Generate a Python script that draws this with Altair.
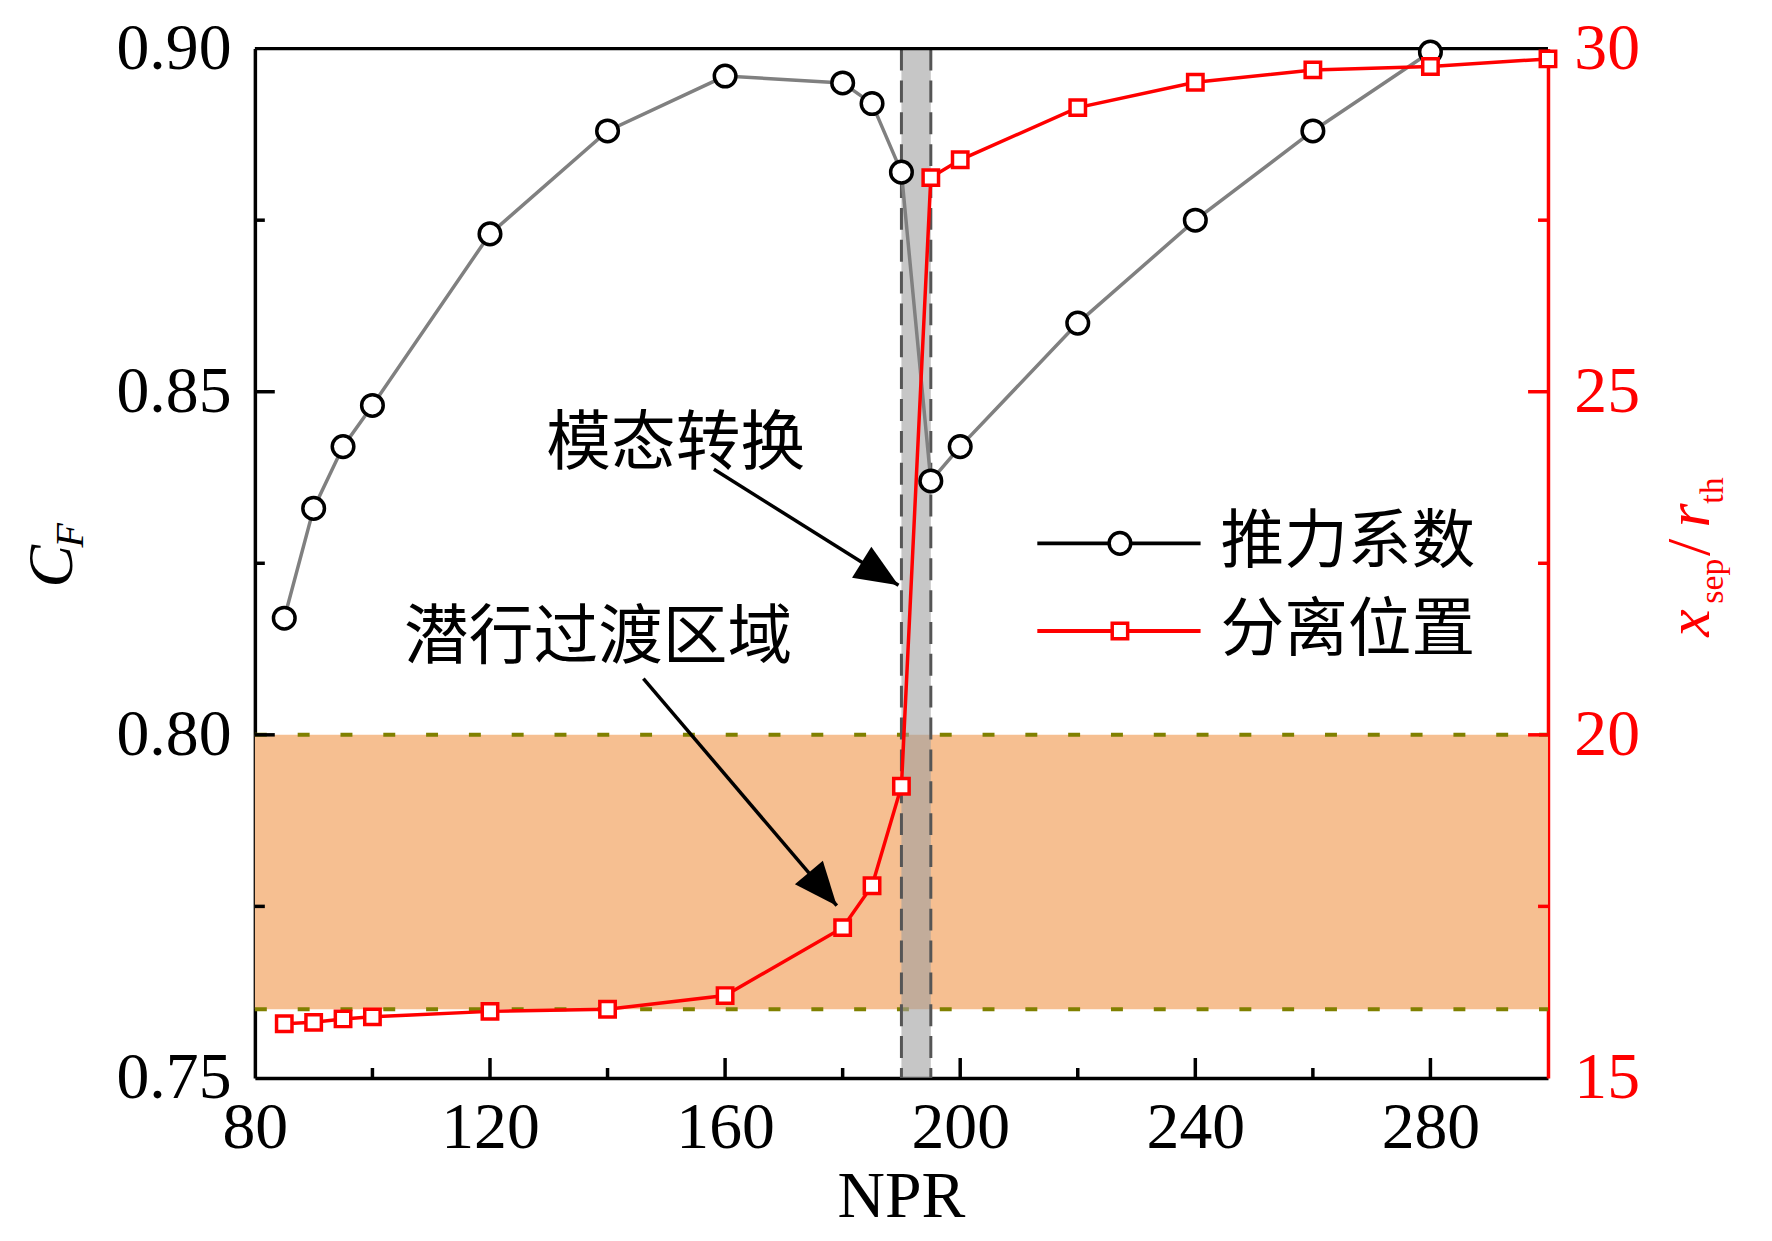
import altair as alt
import pandas as pd

# ---------------- data ----------------
npr_cf = [85, 90, 95, 100, 120, 140, 160, 180, 185, 190, 195, 200, 220, 240, 260, 280]
cf = [0.817, 0.833, 0.842, 0.848, 0.873, 0.888, 0.896, 0.895, 0.892, 0.882,
      0.837, 0.842, 0.860, 0.875, 0.888, 0.8995]

npr_sep = [85, 90, 95, 100, 120, 140, 160, 180, 185, 190, 195, 200, 220, 240, 260, 280, 300]
xsep = [15.79, 15.81, 15.86, 15.89, 15.97, 16.00, 16.20, 17.19, 17.80, 19.25,
        28.12, 28.38, 29.14, 29.51, 29.69, 29.74, 29.85]

x_labels = [80, 120, 160, 200, 240, 280]
x_major = [120, 160, 200, 240, 280]
x_minor = [100, 140, 180, 220, 260]
left_labels = [0.75, 0.80, 0.85, 0.90]
left_major = [0.80, 0.85]
left_minor = [0.775, 0.825, 0.875]
right_labels = [15, 20, 25, 30]
right_major = [20, 25]
right_minor = [17.5, 22.5, 27.5]

band_cf = [0.76, 0.80]          # orange region (left axis units)
band_npr = [190, 195]           # grey transition region (NPR)

annot_text = ["模态转换", "潜行过渡区域"]
annot_x = [151.6, 138.4]
annot_y = [0.8423, 0.8141]
arrow_x0 = [158.1, 146.1]
arrow_y0 = [0.8387, 0.8082]
arrow_x1 = [189.5, 179.0]
arrow_y1 = [0.8218, 0.7751]
arrow_angle = [32, 50]

legend_labels = ["推力系数", "分离位置"]
legend_colors = ["black", "red"]
legend_shapes = ["circle", "square"]

# ---------------- layout ----------------
W, H = 1299, 1034
SERIF = "Liberation Serif"
CJK = "Noto Sans CJK SC"
RED = "#FF0000"
LW = 3.5
LFS = 66

df_cf = pd.DataFrame({"npr": npr_cf, "cf": cf})
df_sep = pd.DataFrame({"npr": npr_sep, "xsep": xsep})
one = pd.DataFrame({"d": [0]})

xs = alt.Scale(domain=[80, 300], nice=False, zero=False)
ysL = alt.Scale(domain=[0.75, 0.90], nice=False, zero=False)
ysR = alt.Scale(domain=[15, 30], nice=False, zero=False)

x_axis = alt.Axis(values=x_labels, format="d", title=None, ticks=False, tickSize=0,
                  domainColor="black", domainWidth=LW, labelFont=SERIF, labelFontSize=LFS,
                  labelColor="black", labelPadding=18, grid=False, labelFlush=False,
                  labelOverlap=False)
yL_axis = alt.Axis(values=left_labels, format=".2f", title=None, ticks=False, tickSize=0,
                   domainColor="black", domainWidth=LW, labelFont=SERIF, labelFontSize=LFS,
                   labelColor="black", labelPadding=24, grid=False, labelOverlap=False,
                   orient="left")
yR_axis = alt.Axis(values=right_labels, format="d", title=None, ticks=False, tickSize=0,
                   domainColor=RED, domainWidth=LW, labelFont=SERIF, labelFontSize=LFS,
                   labelColor=RED, labelPadding=26, grid=False, labelOverlap=False,
                   orient="right")


def X(f):
    return alt.X(f, type="quantitative", scale=xs, axis=x_axis)


def YL(f):
    return alt.Y(f, type="quantitative", scale=ysL, axis=yL_axis)


def YR(f):
    return alt.Y(f, type="quantitative", scale=ysR, axis=yR_axis)


# ---------------- left (C_F) group ----------------
orange = alt.Chart(pd.DataFrame({"lo": [band_cf[0]], "hi": [band_cf[1]]})).mark_rect(
    color="#F6BF91").encode(y=YL("lo"), y2="hi", x=alt.value(0), x2=alt.value(W))

olive = alt.Chart(pd.DataFrame({"v": band_cf})).mark_rule(
    color="#808000", strokeWidth=4, strokeDash=[12, 31]).encode(
    y=YL("v"), x=alt.value(0), x2=alt.value(W))

grey = alt.Chart(pd.DataFrame({"lo": [band_npr[0]], "hi": [band_npr[1]]})).mark_rect(
    color="#A0A0A0", opacity=0.6).encode(x=X("lo"), x2="hi", y=alt.value(0), y2=alt.value(H))

grey_dash = alt.Chart(pd.DataFrame({"v": band_npr})).mark_rule(
    color="#555555", strokeWidth=3, strokeDash=[22, 10]).encode(
    x=X("v"), y=alt.value(0), y2=alt.value(H))

cf_line = alt.Chart(df_cf).mark_line(color="#808080", strokeWidth=LW).encode(
    x=X("npr"), y=YL("cf"))

df_arrow = pd.DataFrame({"x0": arrow_x0, "y0": arrow_y0, "x1": arrow_x1,
                         "y1": arrow_y1, "ang": arrow_angle})
arrows = alt.Chart(df_arrow).mark_rule(color="black", strokeWidth=LW).encode(
    x=X("x0"), x2="x1", y=YL("y0"), y2="y1")
heads = alt.Chart(df_arrow).mark_point(
    shape="M0,0L-2,-0.84L-2,0.84Z", size=1900, filled=True, color="black", opacity=1).encode(
    x=X("x1"), y=YL("y1"), angle=alt.Angle("ang:Q", scale=None))

annot = alt.Chart(pd.DataFrame({"t": annot_text, "x": annot_x, "y": annot_y})).mark_text(
    font=CJK, fontSize=65, align="center", baseline="middle", color="black").encode(
    x=X("x"), y=YL("y"), text="t:N")

xt_major = alt.Chart(pd.DataFrame({"v": x_major})).mark_rule(color="black", strokeWidth=LW).encode(
    x=X("v"), y=alt.value(H), y2=alt.value(H - 20))
xt_minor = alt.Chart(pd.DataFrame({"v": x_minor})).mark_rule(color="black", strokeWidth=LW).encode(
    x=X("v"), y=alt.value(H), y2=alt.value(H - 10))
yl_major = alt.Chart(pd.DataFrame({"v": left_major})).mark_rule(color="black", strokeWidth=LW).encode(
    y=YL("v"), x=alt.value(0), x2=alt.value(20))
yl_minor = alt.Chart(pd.DataFrame({"v": left_minor})).mark_rule(color="black", strokeWidth=LW).encode(
    y=YL("v"), x=alt.value(0), x2=alt.value(10))

top_border = alt.Chart(one).mark_rule(color="black", strokeWidth=LW).encode(
    x=alt.value(0), x2=alt.value(W), y=alt.value(0))

cf_pts = alt.Chart(df_cf).mark_point(
    shape="circle", size=470, filled=True, fill="white", stroke="black",
    strokeWidth=LW, opacity=1).encode(x=X("npr"), y=YL("cf"))

# axis titles (as text)
tC = alt.Chart(one).mark_text(text="C", font=SERIF, fontStyle="italic", fontSize=64,
                              angle=270, align="center", baseline="alphabetic").encode(
    x=alt.value(-184), y=alt.value(520))
tF = alt.Chart(one).mark_text(text="F", font=SERIF, fontStyle="italic", fontSize=40,
                              angle=270, align="center", baseline="alphabetic").encode(
    x=alt.value(-173), y=alt.value(489))
tNPR = alt.Chart(one).mark_text(text="NPR", font=SERIF, fontSize=66,
                                align="center", baseline="alphabetic").encode(
    x=alt.value(W / 2), y=alt.value(1174))

left = alt.layer(orange, olive, grey, grey_dash, cf_line, arrows, heads, annot,
                 xt_major, xt_minor, yl_major, yl_minor, top_border, cf_pts, tC, tF, tNPR)

# ---------------- right (x_sep) group ----------------
sep_line = alt.Chart(df_sep).mark_line(color=RED, strokeWidth=LW).encode(
    x=X("npr"), y=YR("xsep"))
yr_major = alt.Chart(pd.DataFrame({"v": right_major})).mark_rule(color=RED, strokeWidth=LW).encode(
    y=YR("v"), x=alt.value(W), x2=alt.value(W - 20))
yr_minor = alt.Chart(pd.DataFrame({"v": right_minor})).mark_rule(color=RED, strokeWidth=LW).encode(
    y=YR("v"), x=alt.value(W), x2=alt.value(W - 10))
sep_pts = alt.Chart(df_sep).mark_point(
    shape="square", size=240, filled=True, fill="white", stroke=RED,
    strokeWidth=LW, opacity=1).encode(x=X("npr"), y=YR("xsep"))

# right title pieces: (text, font size, italic, baseline x, centre y)
rt_pieces = [("x", 62, "italic", 1461, 577), ("sep", 34, "normal", 1475, 535),
             ("/", 62, "normal", 1461, 501), ("r", 62, "italic", 1461, 469),
             ("th", 34, "normal", 1475, 444)]
rt_layers = [
    alt.Chart(one).mark_text(text=t, font=SERIF, fontStyle=st, fontSize=fs, angle=270,
                             align="center", baseline="alphabetic", color=RED).encode(
        x=alt.value(bx), y=alt.value(cy))
    for t, fs, st, bx, cy in rt_pieces
]

# legend
leg_rows = [497, 585]
leg_layers = []
for lab, col, shp, ly in zip(legend_labels, legend_colors, legend_shapes, leg_rows):
    leg_layers.append(alt.Chart(one).mark_rule(color=col, strokeWidth=4).encode(
        x=alt.value(786), x2=alt.value(950), y=alt.value(ly)))
    leg_layers.append(alt.Chart(one).mark_point(
        shape=shp, size=470 if shp == "circle" else 240, filled=True, fill="white",
        stroke=col, strokeWidth=LW, opacity=1).encode(x=alt.value(869), y=alt.value(ly)))
    leg_layers.append(alt.Chart(one).mark_text(
        text=lab, font=CJK, fontSize=64, align="left", baseline="middle", color="black").encode(
        x=alt.value(970), y=alt.value(ly)))

right = alt.layer(sep_line, yr_major, yr_minor, sep_pts, *rt_layers, *leg_layers)

chart = alt.layer(left, right).resolve_scale(y="independent").properties(
    width=W, height=H,
    padding={"left": 248, "top": 38, "right": 217, "bottom": 161},
    autosize=alt.AutoSizeParams(type="none"),
    background="white",
).configure_view(stroke=None)

chart.save("out.html", embed_options={"renderer": "svg", "actions": False})
